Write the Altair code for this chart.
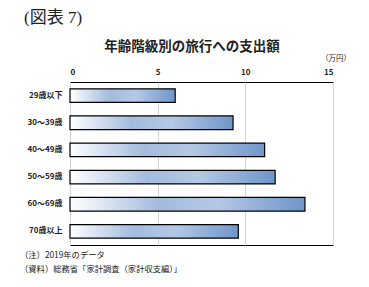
import altair as alt
import pandas as pd

categories = ["29歳以下", "30～39歳", "40～49歳", "50～59歳", "60～69歳", "70歳以上"]
values = [6.0, 9.3, 11.1, 11.7, 13.4, 9.6]
x_ticks = [0, 5, 10, 15]

df = pd.DataFrame({"age": categories, "spend": values})

FONT = "Noto Sans CJK JP"

grad = alt.Gradient(
    gradient="linear",
    stops=[
        alt.GradientStop(color="#ffffff", offset=0),
        alt.GradientStop(color="#a3bbdd", offset=0.38),
        alt.GradientStop(color="#b5c9e5", offset=0.62),
        alt.GradientStop(color="#6f96c9", offset=1),
    ],
    x1=0, x2=1, y1=0, y2=0,
)

bars = alt.Chart(df).mark_bar(color=grad, stroke="black", strokeWidth=1.2).encode(
    x=alt.X("spend:Q", scale=alt.Scale(domain=[0, 15], nice=False),
            axis=alt.Axis(orient="top", values=x_ticks, title=None, grid=True,
                          gridColor="#d4d4d4", ticks=False, domain=False,
                          labelPadding=6, labelFont=FONT, labelFontSize=8,
                          labelFontWeight="bold", labelColor="#222")),
    y=alt.Y("age:N", sort=categories,
            scale=alt.Scale(paddingInner=0.5, paddingOuter=0.25),
            axis=alt.Axis(title=None, ticks=False, domain=False, labelPadding=8,
                          labelFont=FONT, labelFontSize=8, labelFontWeight="bold",
                          labelColor="#222")),
)

def txt(s, x, y, size, weight="normal", align="left", font=FONT):
    return alt.Chart(pd.DataFrame({"t": [s]})).mark_text(
        align=align, baseline="middle", fontSize=size, fontWeight=weight,
        font=font, color="#222"
    ).encode(x=alt.value(x), y=alt.value(y), text="t:N")

layers = [
    bars,
    txt("(図表 7)", -46, -64, 17, font="Liberation Serif, Noto Sans CJK JP"),
    txt("年齢階級別の旅行への支出額", 122, -35, 13.5, weight="bold", align="center"),
    txt("（万円）", 266, -23, 7.5, align="center"),
    txt("（注）2019年のデータ", -50, 174, 8.3),
    txt("（資料）総務省「家計調査（家計収支編）」", -50, 188, 8.3),
]

chart = alt.layer(*layers).properties(
    width=263, height=163,
    autosize=alt.AutoSizeParams(type="none"),
    padding={"left": 70, "top": 82, "right": 36, "bottom": 42},
    background="white",
).configure_view(stroke="black", strokeWidth=1)

chart.save("out.html", embed_options={"renderer": "svg", "actions": False})
